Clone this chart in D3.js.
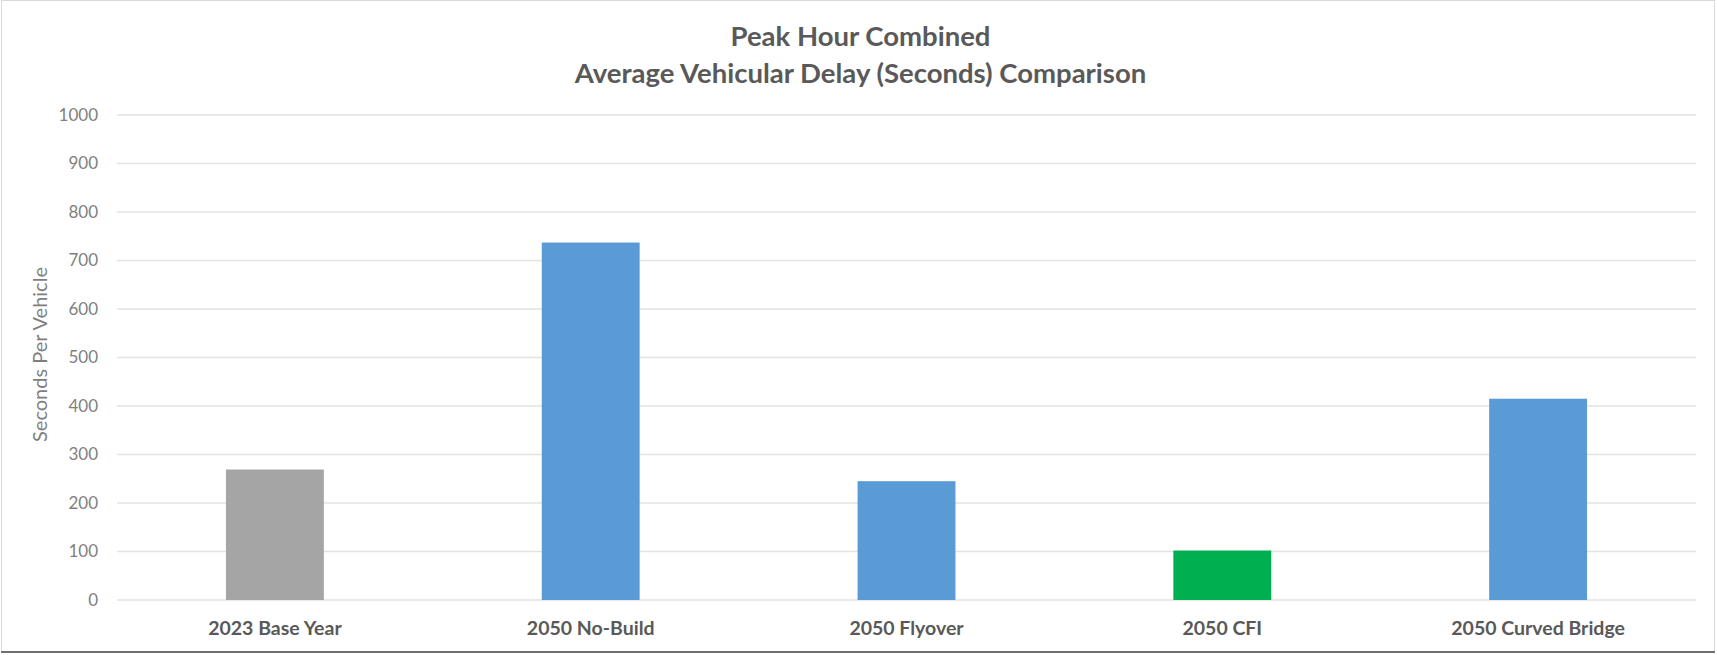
<!DOCTYPE html>
<html>
<head>
<meta charset="utf-8">
<script src="https://cdn.jsdelivr.net/npm/d3@7"></script>
<style>
  html, body { margin: 0; padding: 0; background: #ffffff; }
  svg { display: block; }
</style>
</head>
<body>
<script>
// Scenario names and their combined peak-hour delay (seconds per vehicle)
const scenarios = ["2023 Base Year", "2050 No-Build", "2050 Flyover", "2050 CFI", "2050 Curved Bridge"];
const delaySeconds = [269, 737, 245, 102, 415];
const barColors = ["#a5a5a5", "#5b9bd5", "#5b9bd5", "#00b050", "#5b9bd5"];
const yTicks = [0, 100, 200, 300, 400, 500, 600, 700, 800, 900, 1000];
const titleLines = ["Peak Hour Combined", "Average Vehicular Delay (Seconds) Comparison"];
const yAxisTitle = "Seconds Per Vehicle";

const W = 1717, H = 655;
const plot = { left: 117, right: 1696, top: 115, bottom: 600 };
const FONT = "Lato, 'Open Sans', sans-serif";

const svg = d3.select("body").append("svg")
  .attr("width", W).attr("height", H);

// chart frame
svg.append("rect").attr("x", 1.5).attr("y", 0.5).attr("width", W - 4).attr("height", H - 4)
  .attr("fill", "#fff").attr("stroke", "#d9d9d9").attr("stroke-width", 1);
svg.append("line").attr("x1", 1).attr("x2", W - 2).attr("y1", H - 3).attr("y2", H - 3)
  .attr("stroke", "#6f6f6f").attr("stroke-width", 2);

const x = d3.scaleBand().domain(scenarios).range([plot.left, plot.right])
  .paddingInner(0.69).paddingOuter(0.345);
const y = d3.scaleLinear().domain([0, 1000]).range([plot.bottom, plot.top]);

// horizontal gridlines
svg.append("g").selectAll("line").data(yTicks).join("line")
  .attr("x1", plot.left).attr("x2", plot.right)
  .attr("y1", d => y(d)).attr("y2", d => y(d))
  .attr("stroke", "#e3e3e3").attr("stroke-width", 1.5);

// y axis labels
const yAxis = d3.axisLeft(y).tickValues(yTicks).tickFormat(d3.format("d"))
  .tickSize(0).tickPadding(19);
const gy = svg.append("g").attr("transform", `translate(${plot.left},0)`).call(yAxis);
gy.select(".domain").remove();
gy.selectAll("text").attr("font-family", FONT)
  .attr("font-size", 17).attr("fill", "#7f7f7f");

// bars
svg.append("g").selectAll("rect").data(scenarios).join("rect")
  .attr("x", d => x(d)).attr("width", x.bandwidth())
  .attr("y", (d, i) => y(delaySeconds[i]))
  .attr("height", (d, i) => y(0) - y(delaySeconds[i]))
  .attr("fill", (d, i) => barColors[i]);

// x axis labels
const xAxis = d3.axisBottom(x).tickSize(0).tickPadding(21);
const gx = svg.append("g").attr("transform", `translate(0,${plot.bottom})`).call(xAxis);
gx.select(".domain").remove();
gx.selectAll("text").attr("font-family", FONT)
  .attr("font-size", 19.5).attr("font-weight", "bold").attr("fill", "#595959");

// y axis title
svg.append("text")
  .attr("transform", `translate(47,${(plot.top + plot.bottom) / 2 - 3}) rotate(-90)`)
  .attr("text-anchor", "middle")
  .attr("font-family", FONT)
  .attr("font-size", 20).attr("fill", "#7f7f7f")
  .text(yAxisTitle);

// chart title
svg.append("g").selectAll("text").data(titleLines).join("text")
  .attr("x", W / 2 + 2).attr("y", (d, i) => 46 + i * 37)
  .attr("text-anchor", "middle")
  .attr("font-family", FONT)
  .attr("font-size", 27.5).attr("font-weight", "bold").attr("fill", "#595959")
  .text(d => d);
</script>
</body>
</html>
